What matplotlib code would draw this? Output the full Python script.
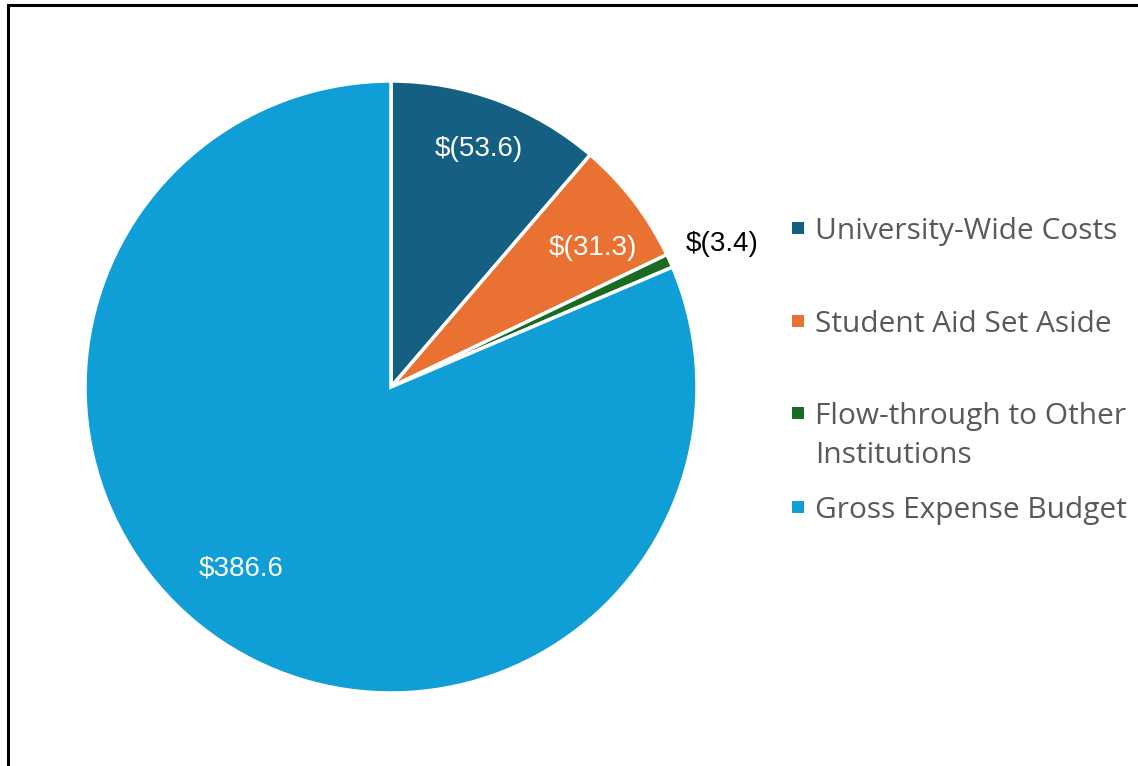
import numpy as np
import matplotlib.pyplot as plt
from matplotlib.patches import Rectangle

# budget components ($M)
categories = ["University-Wide Costs", "Student Aid Set Aside",
              "Flow-through to Other\nInstitutions", "Gross Expense Budget"]
values = [53.6, 31.3, 3.4, 386.6]
value_labels = ["$(53.6)", "$(31.3)", "$(3.4)", "$386.6"]
colors = ["#156082", "#E97132", "#196B24", "#0F9ED5"]

# label placement (fraction of radius, angle nudge in degrees, text colour)
label_dist = [0.83, 0.80, 1.18, 0.77]
label_nudge = [0, -3, -1, -6]
label_color = ["white", "white", "black", "white"]

W, H = 1138, 766
fig = plt.figure(figsize=(W / 100, H / 100), dpi=100)

# black frame running off the right/bottom edge like the screenshot
fig.patches.append(Rectangle((8 / W, -0.05), 1.2, 1 - 5 / H + 0.05,
                             transform=fig.transFigure, fill=False,
                             edgecolor="black", linewidth=2.2))

cx, cy, r = 391, H - 387, 306
ax = fig.add_axes([(cx - r) / W, (cy - r) / H, 2 * r / W, 2 * r / H])
wedges, _ = ax.pie(values, colors=colors, startangle=90, counterclock=False,
                   wedgeprops=dict(edgecolor="white", linewidth=2.5))
ax.set_xlim(-1, 1)
ax.set_ylim(-1, 1)
ax.set_aspect("equal")
ax.axis("off")

for w, lab, d, nud, c in zip(wedges, value_labels, label_dist, label_nudge, label_color):
    ang = np.deg2rad((w.theta1 + w.theta2) / 2 + nud)
    ax.text(d * np.cos(ang), d * np.sin(ang), lab, ha="center", va="center",
            color=c, fontsize=20, family="Liberation Sans", clip_on=False)

# legend, laid out by hand the way Excel spaced it (y = first text line)
leg_y = [228, 321, 413, 507]
for lab, col, y in zip(categories, colors, leg_y):
    fig.patches.append(Rectangle((792 / W, 1 - (y + 6) / H), 12 / W, 12 / H,
                                 transform=fig.transFigure, facecolor=col,
                                 edgecolor="none"))
    fig.text(815 / W, 1 - (y - 11) / H, lab, ha="left", va="top",
             fontsize=21.5, color="#595959", family="Open Sans",
             linespacing=1.45)

fig.savefig("out.png", dpi=100)
